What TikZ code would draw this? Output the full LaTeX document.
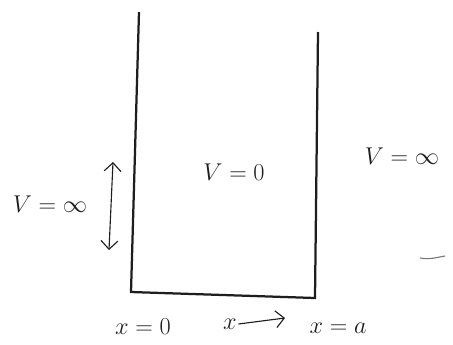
\documentclass[tikz,border=0pt]{standalone}
\usepackage{amsmath}
\usetikzlibrary{arrows.meta, positioning}
\definecolor{mydark}{RGB}{30,30,30}
\tikzset{
  wall/.style={line width=1.6pt, color=mydark},
  label/.style={font=\LARGE, color=mydark, inner sep=1pt},
  arrow/.style={-{Straight Barb[length=6pt]}, thick, color=mydark},
  dblarrow/.style={{Straight Barb[length=6pt]}-{Straight Barb[length=6pt]}, thick, color=mydark}
}
\begin{document}
\begin{tikzpicture}[x=0.025cm, y=-0.025cm]
  \useasboundingbox (0,0) rectangle (453,344);

  % Walls of the well
  \coordinate (LT) at (139,12);
  \coordinate (LB) at (131,292);
  \coordinate (RT) at (318,32);
  \coordinate (RB) at (315,298);
  \draw[wall] (LT) -- (LB) -- (RB) -- (RT);

  % Potential inside and outside
  \node[label] (vin) at (234,172) {$V=0$};
  \node[label] (vright) at (402,156) {$V=\infty$};
  \node[label] (vleft) at (50,204) {$V=\infty$};

  % Double arrow on the left
  \coordinate (up) at (113,162);
  \coordinate (down) at (109,250);
  \draw[dblarrow] (down) -- (up);

  % Small stroke on the right
  \draw[thick, color=mydark!60] (420,258) to[out=-10, in=190] (445,256);

  % Axis labels
  \node[label] (x0) at (143,327) {$x=0$};
  \node[label] (xa) at (338,328) {$x=a$};
  \node[label] (xv) at (230,324) {$x$};
  \coordinate (xend) at (285,318);
  \draw[arrow] (xv.east) -- (xend);
\end{tikzpicture}
\end{document}
